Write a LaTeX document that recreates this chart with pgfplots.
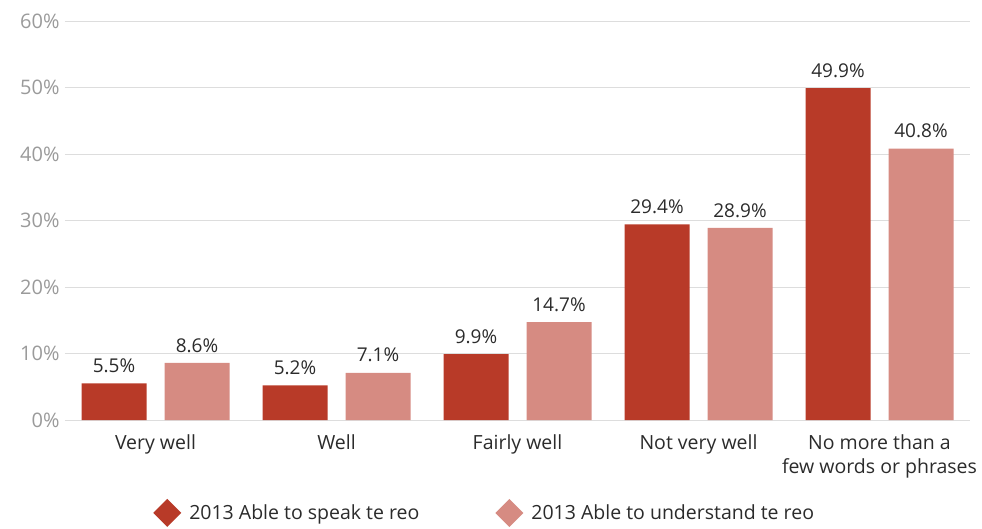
\documentclass[border=0pt]{standalone}
\usepackage{pgfplots}
\pgfplotsset{compat=1.18}
\usepackage{fontspec}
\setmainfont{Open Sans}
\definecolor{darkred}{HTML}{B83A28}
\definecolor{lightred}{HTML}{D68B82}
\definecolor{gridgray}{HTML}{DDDDDD}
\definecolor{ticklab}{HTML}{9A9A9A}
\definecolor{txt}{HTML}{2B2B2B}
\begin{document}
\begin{tikzpicture}
\begin{axis}[
  scale only axis,
  width=905pt, height=399pt,
  font=\fontsize{19.5}{24}\selectfont,
  ybar=18pt, bar width=65pt,
  xmin=-0.5, xmax=4.5,
  ymin=0, ymax=60,
  ytick={0,10,...,60},
  yticklabel={\pgfmathprintnumber{\tick}\%},
  /pgf/number format/assume math mode=true,
  yticklabel style={color=ticklab, font=\fontsize{20}{24}\selectfont, xshift=-2pt},
  xtick={0,1,2,3,4},
  xticklabels={Very well, Well, Fairly well, Not very well, {No more than a\\few words or phrases}},
  xticklabel style={align=center, color=txt, yshift=-11pt, font=\fontsize{19.5}{24}\selectfont},
  major tick length=0pt,
  axis line style={draw=none},
  ymajorgrids, grid style={gridgray, line width=0.8pt},
  nodes near coords={\pgfmathprintnumber[fixed,precision=1,fixed zerofill]{\pgfplotspointmeta}\%},
  nodes near coords style={color=txt, font=\fontsize{19}{23}\selectfont, yshift=7pt},
  legend style={draw=none, at={(0.094,-0.233)}, anchor=west, font=\fontsize{19.5}{24}\selectfont, text=txt,
    /tikz/every odd column/.append style={column sep=6pt},
    /tikz/every even column/.append style={column sep=74pt}},
  legend columns=2,
  legend image code/.code={\fill[#1] (0pt,0pt) -- (14pt,14pt) -- (28pt,0pt) -- (14pt,-14pt) -- cycle;},
]
\addplot[fill=darkred, draw=none] coordinates {(0,5.5) (1,5.2) (2,9.9) (3,29.4) (4,49.9)};
\addplot[fill=lightred, draw=none] coordinates {(0,8.6) (1,7.1) (2,14.7) (3,28.9) (4,40.8)};
\legend{2013 Able to speak te reo, 2013 Able to understand te reo}
\path (rel axis cs:0,1) ++(-65pt,21pt) coordinate (bbtl);
\path (rel axis cs:1,0) ++(12pt,-106pt) coordinate (bbbr);
\end{axis}
\useasboundingbox (bbtl) rectangle (bbbr);
\end{tikzpicture}
\end{document}
